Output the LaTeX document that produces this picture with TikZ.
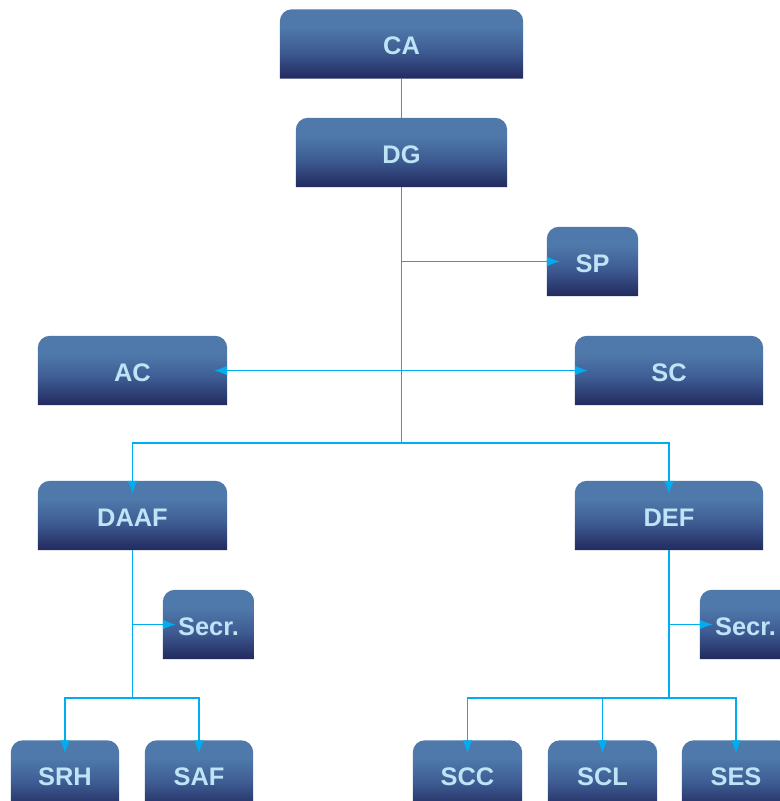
\documentclass[tikz,border=0pt]{standalone}
\usepackage{fontspec}
\setmainfont{Liberation Sans}
\usetikzlibrary{arrows.meta}
\usetikzlibrary{backgrounds}
\definecolor{boxtop}{HTML}{4F79AB}
\definecolor{boxmid}{HTML}{3E5C93}
\definecolor{boxbot}{HTML}{222A5E}
\definecolor{boxtext}{HTML}{BEE4F6}
\definecolor{wire}{HTML}{00AEEF}
\pgfdeclareverticalshading{boxgrad}{100bp}{color(0bp)=(boxbot); color(25bp)=(boxbot); color(45bp)=(boxmid); color(62bp)=(boxtop); color(100bp)=(boxtop)}

\begin{document}
\begin{tikzpicture}[x=1bp,y=-1bp,every node/.style={text=boxtext, font=\fontsize{25.5}{30}\selectfont\bfseries, minimum height=69bp, inner sep=0pt, text height=21bp, text depth=0pt},link/.style={draw=wire, line width=1.6bp},feed/.style={link, -{Latex[length=13bp,width=10bp]}, shorten >=-13bp}]

	\useasboundingbox (0,0) rectangle (780,801);

	\node[minimum width=243bp] (CA) at (401.5,44) {CA};
	\node[minimum width=211bp] (DG) at (401.5,152.5) {DG};
	\node[minimum width=91bp] (SP) at (592.5,261.5) {SP};
	\node[minimum width=189bp] (AC) at (132.5,370.5) {AC};
	\node[minimum width=188bp] (SC) at (669,370.5) {SC};
	\node[minimum width=189bp] (DAAF) at (132.5,515.5) {DAAF};
	\node[minimum width=188bp] (DEF) at (669,515.5) {DEF};
	\node[minimum width=91bp] (secrA) at (208.5,624.5) {Secr.};
	\node[minimum width=91bp] (secrB) at (745.5,624.5) {Secr.};
	\node[minimum width=108bp] (SRH) at (65,775) {SRH};
	\node[minimum width=108bp] (SAF) at (199,775) {SAF};
	\node[minimum width=109bp] (SCC) at (467.5,775) {SCC};
	\node[minimum width=109bp] (SCL) at (602.5,775) {SCL};
	\node[minimum width=108bp] (SES) at (736,775) {SES};

	% boxes
	\begin{scope}[on background layer]
		\foreach \n in {CA,DG,SP,AC,SC,DAAF,DEF,secrA,secrB,SRH,SAF,SCC,SCL,SES}
			\shade[shading=boxgrad] (\n.south west) [rounded corners=12bp] -- (\n.north west) -- (\n.north east) [sharp corners] -- (\n.south east) -- cycle;
	\end{scope}

	\coordinate (hub) at (401.5,443);
	\coordinate (lhub) at (132.5,698);
	\coordinate (rhub) at (669,698);

	\draw[link] (CA) -- (DG);
	\draw[link] (DG) -- (hub);
	\draw[feed] (DG.south |- SP.west) -- (SP.west);
	\draw[feed] (DG.south |- AC.east) -- (AC.east);
	\draw[feed] (DG.south |- SC.west) -- (SC.west);
	\draw[feed] (hub) -| (DAAF);
	\draw[feed] (hub) -| (DEF);

	\draw[link] (DAAF) -- (lhub);
	\draw[feed] (DAAF.south |- secrA.west) -- (secrA.west);
	\draw[feed] (lhub) -| (SRH);
	\draw[feed] (lhub) -| (SAF);

	\draw[link] (DEF) -- (rhub);
	\draw[feed] (DEF.south |- secrB.west) -- (secrB.west);
	\draw[feed] (rhub) -| (SCC);
	\draw[feed] (rhub) -| (SCL);
	\draw[feed] (rhub) -| (SES);
\end{tikzpicture}
\end{document}
